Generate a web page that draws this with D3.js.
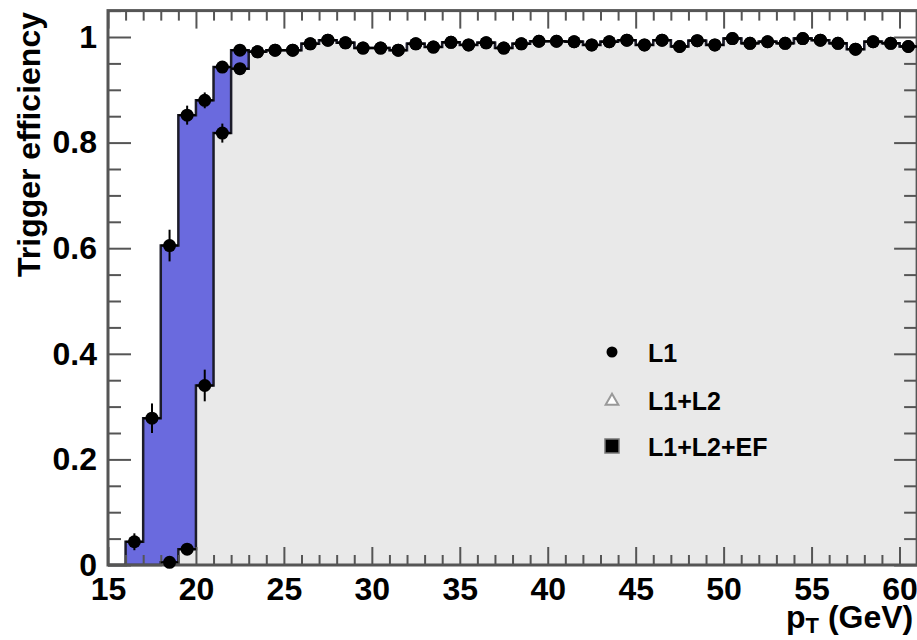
<!DOCTYPE html>
<html>
<head>
<meta charset="utf-8">
<script src="https://cdn.jsdelivr.net/npm/d3@7"></script>
<style>
  body { margin: 0; background: #fff; }
  svg { display: block; }
  text { font-family: "Liberation Sans", Arial, Helvetica, sans-serif; font-weight: bold; fill: #000; }
</style>
</head>
<body>
<svg id="chart" width="917" height="640"></svg>
<script>
// Lower bin edges in pT (GeV); every bin is 1 GeV wide, the last one ends at 61.
const binLow = [15,16,17,18,19,20,21,22,23,24,25,26,27,28,29,30,31,32,33,34,35,36,37,38,
                39,40,41,42,43,44,45,46,47,48,49,50,51,52,53,54,55,56,57,58,59,60];
const binEnd = 61;

// Efficiency after L1 only (upper histogram, blue).
const effL1 = [0, 0.044, 0.278, 0.605, 0.852, 0.880, 0.943, 0.975,
  0.972, 0.975, 0.975, 0.987, 0.994, 0.989, 0.979, 0.979, 0.975, 0.987, 0.981, 0.990,
  0.985, 0.989, 0.979, 0.987, 0.992, 0.992, 0.991, 0.985, 0.991, 0.994, 0.985, 0.994,
  0.982, 0.993, 0.985, 0.997, 0.988, 0.991, 0.988, 0.997, 0.994, 0.988, 0.977, 0.991,
  0.988, 0.982];
const errL1 = [0, 0.016, 0.028, 0.030, 0.018, 0.015, 0.010, 0.008,
  0.006, 0.006, 0.005, 0.005, 0.004, 0.004, 0.005, 0.005, 0.005, 0.004, 0.004, 0.004,
  0.004, 0.004, 0.005, 0.004, 0.004, 0.004, 0.004, 0.004, 0.004, 0.004, 0.004, 0.004,
  0.005, 0.004, 0.004, 0.003, 0.004, 0.004, 0.004, 0.003, 0.004, 0.004, 0.005, 0.004,
  0.004, 0.006];

// Efficiency after L1+L2+EF (lower histogram, grey).
const effEF = [0, 0, 0, 0.005, 0.030, 0.340, 0.818, 0.940,
  0.972, 0.975, 0.975, 0.987, 0.994, 0.989, 0.979, 0.979, 0.975, 0.987, 0.981, 0.990,
  0.985, 0.989, 0.979, 0.987, 0.992, 0.992, 0.991, 0.985, 0.991, 0.994, 0.985, 0.994,
  0.982, 0.993, 0.985, 0.997, 0.988, 0.991, 0.988, 0.997, 0.994, 0.988, 0.977, 0.991,
  0.988, 0.982];
const errEF = [0, 0, 0, 0.006, 0.010, 0.030, 0.018, 0.010,
  0.006, 0.006, 0.005, 0.005, 0.004, 0.004, 0.005, 0.005, 0.005, 0.004, 0.004, 0.004,
  0.004, 0.004, 0.005, 0.004, 0.004, 0.004, 0.004, 0.004, 0.004, 0.004, 0.004, 0.004,
  0.005, 0.004, 0.004, 0.003, 0.004, 0.004, 0.004, 0.003, 0.004, 0.004, 0.005, 0.004,
  0.004, 0.006];

const xMajorTicks = [15, 20, 25, 30, 35, 40, 45, 50, 55, 60];
const yMajorTicks = [0, 0.2, 0.4, 0.6, 0.8, 1];
const legendLabels = ["L1", "L1+L2", "L1+L2+EF"];

const svg = d3.select("#chart");

const x = d3.scaleLinear().domain([15, 61]).range([108, 917.1]);
const y = d3.scaleLinear().domain([0, 1.05]).range([565, 565 - 1.05 * 528]);

const [x0, x1] = x.range();
const [yb, yt] = y.range();

// Histogram as step outline: one point per bin edge, repeating the last value at the end.
function stepData(vals) {
  const pts = binLow.map((b, i) => [b, vals[i]]);
  pts.push([binEnd, vals[vals.length - 1]]);
  return pts;
}

const area = d3.area().curve(d3.curveStepAfter)
  .x(d => x(d[0])).y0(y(0)).y1(d => y(d[1]));
const line = d3.line().curve(d3.curveStepAfter)
  .x(d => x(d[0])).y(d => y(d[1]));

const plot = svg.append("g");

plot.append("path").datum(stepData(effL1))
  .attr("d", area).attr("fill", "#6a6ade");
plot.append("path").datum(stepData(effL1))
  .attr("d", line).attr("fill", "none").attr("stroke", "#1c1c2a").attr("stroke-width", 2.5);

plot.append("path").datum(stepData(effEF))
  .attr("d", area).attr("fill", "#e9e9e9");
plot.append("path").datum(stepData(effEF))
  .attr("d", line).attr("fill", "none").attr("stroke", "#1c1c2a").attr("stroke-width", 2.5);

// Axes: ticks point inwards on all four sides.
function styleAxis(g) {
  g.select(".domain").remove();
  g.selectAll(".tick line").attr("stroke", "#555").attr("stroke-width", 2);
  g.selectAll(".tick text").style("font-size", "32px").attr("fill", "#000");
}

const xMinor = binLow.filter(v => !xMajorTicks.includes(v));
const yMinor = d3.range(0, 1.051, 0.05).map(v => +v.toFixed(2))
  .filter(v => !yMajorTicks.includes(v));

svg.append("g").attr("transform", `translate(0,${yb})`)
  .call(d3.axisBottom(x).tickValues(xMinor).tickSize(-10).tickFormat(""))
  .call(styleAxis);
svg.append("g").attr("transform", `translate(0,${yb})`)
  .call(d3.axisBottom(x).tickValues(xMajorTicks).tickSize(-18).tickPadding(12).tickFormat(d3.format("d")))
  .call(styleAxis);

svg.append("g").attr("transform", `translate(0,${yt})`)
  .call(d3.axisTop(x).tickValues(xMinor).tickSize(-10).tickFormat(""))
  .call(styleAxis);
svg.append("g").attr("transform", `translate(0,${yt})`)
  .call(d3.axisTop(x).tickValues(xMajorTicks).tickSize(-18).tickFormat(""))
  .call(styleAxis);

svg.append("g").attr("transform", `translate(${x0},0)`)
  .call(d3.axisLeft(y).tickValues(yMinor).tickSize(-13).tickFormat(""))
  .call(styleAxis);
svg.append("g").attr("transform", `translate(${x0},0)`)
  .call(d3.axisLeft(y).tickValues(yMajorTicks).tickSize(-23).tickPadding(11).tickFormat(d3.format("~g")))
  .call(styleAxis);

svg.append("g").attr("transform", `translate(${x1},0)`)
  .call(d3.axisRight(y).tickValues(yMinor).tickSize(-13).tickFormat(""))
  .call(styleAxis);
svg.append("g").attr("transform", `translate(${x1},0)`)
  .call(d3.axisRight(y).tickValues(yMajorTicks).tickSize(-23).tickFormat(""))
  .call(styleAxis);

// Frame
svg.append("rect")
  .attr("x", x0).attr("y", yt).attr("width", x1 - x0).attr("height", yb - yt)
  .attr("fill", "none").attr("stroke", "#555").attr("stroke-width", 3);

// Data points with bin-width and statistical error bars.
function drawPoints(vals, errs) {
  const pts = binLow.map((b, i) => ({ lo: b, v: vals[i], e: errs[i] })).filter(d => d.v > 0);
  const g = svg.append("g");
  g.selectAll("line.h").data(pts).join("line")
    .attr("x1", d => x(d.lo)).attr("x2", d => x(d.lo + 1))
    .attr("y1", d => y(d.v)).attr("y2", d => y(d.v))
    .attr("stroke", "#000").attr("stroke-width", 2);
  g.selectAll("line.v").data(pts).join("line")
    .attr("x1", d => x(d.lo + 0.5)).attr("x2", d => x(d.lo + 0.5))
    .attr("y1", d => y(d.v - d.e)).attr("y2", d => y(d.v + d.e))
    .attr("stroke", "#000").attr("stroke-width", 2);
  g.selectAll("circle").data(pts).join("circle")
    .attr("cx", d => x(d.lo + 0.5)).attr("cy", d => y(d.v)).attr("r", 6.5)
    .attr("fill", "#000");
}
drawPoints(effEF, errEF);
drawPoints(effL1, errL1);

// Axis titles
svg.append("text")
  .attr("transform", "translate(40,12) rotate(-90)")
  .attr("text-anchor", "end")
  .style("font-size", "32px")
  .text("Trigger efficiency");

const xt = svg.append("text").attr("x", 786).attr("y", 628).style("font-size", "32px");
xt.append("tspan").text("p");
xt.append("tspan").attr("dy", 5).style("font-size", "22px").text("T");
xt.append("tspan").attr("dy", -5).text(" (GeV)");

// Legend
const legend = svg.append("g");
const legY = [352, 400, 446];
legend.append("circle").attr("cx", 612).attr("cy", legY[0]).attr("r", 5.5).attr("fill", "#000");
legend.append("path")
  .attr("d", d3.symbol(d3.symbolTriangle, 70)())
  .attr("transform", `translate(612,${legY[1] + 1})`)
  .attr("fill", "#fff").attr("stroke", "#999").attr("stroke-width", 2);
legend.append("rect").attr("x", 605).attr("y", legY[2] - 7).attr("width", 14).attr("height", 14)
  .attr("fill", "#000").attr("stroke", "#777").attr("stroke-width", 1.5);
legend.selectAll("text").data(legendLabels).join("text")
  .attr("x", 648).attr("y", (d, i) => legY[i] + 10)
  .style("font-size", "25px")
  .text(d => d);
</script>
</body>
</html>
